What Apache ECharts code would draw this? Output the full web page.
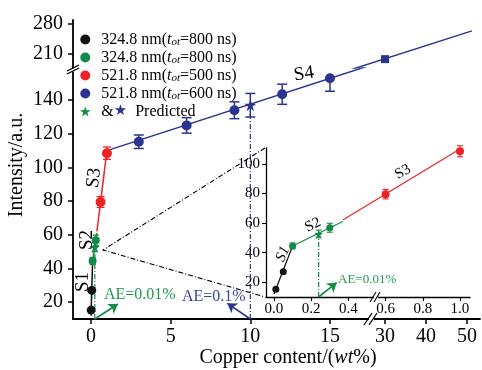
<!DOCTYPE html>
<html><head><meta charset="utf-8">
<script src="https://cdn.jsdelivr.net/npm/echarts@6/dist/echarts.min.js"></script>
<style>html,body{margin:0;padding:0;background:#fff}#c{width:482px;height:370px}</style>
</head><body><div id="c"></div>
<script>
const FONT = '"Liberation Serif", "Times New Roman", serif';
const BLACK = '#111111', GREEN = '#138a45', RED = '#ec2227', BLUE = '#2b3490';
const GTEXT = '#1f9a52', BTEXT = '#3a43a2';
const STAR = 'path://M50,0L61.8,35.3L98.9,35.3L68.9,57.1L80.4,92.7L50,70.6L19.6,92.7L31.1,57.1L1.1,35.3L38.2,35.3Z';

// ---- tick labels ----
const mainYTicks = [20, 40, 60, 80, 100, 120, 140];
const upperYTicks = [210, 280];
const mainXTicks = [0, 5, 10, 15];
const farXTicks = [30, 40, 50];
const insetXTicks = [0, 0.2, 0.4, 0.6, 0.8, 1.0];
const insetYTicks = [20, 40, 60, 80, 100];

// ---- series values ----
const s1Line = [[0.0, 12], [0.1, 44.5]];
const s1Pts = [[0.01, 15.3], [0.05, 27]];
const s2Line = [[0.1, 44.5], [0.37, 61]];
const s2Pts = [[0.1, 44.5], [0.3, 56.8]];
const s2Pred = [[0.24, 52.6]];
const s2Err = [[0.1, 42.5, 46.5, 1], [0.24, 50, 55.2, 1], [0.3, 53.8, 59.8, 1]];
const s3Line = [[0.37, 62], [1.0, 110]];
const s3Pts = [[0.6, 79.5], [1.0, 108.5]];
const s3Err = [[0.6, 76.3, 82.7, 1], [1.0, 104.8, 112.2, 1]];
const s4Line = [[1.0, 110], [51.2, 264]];
const s4Pts = [[3, 115.3], [6, 125], [9, 134], [12, 143.5], [15, 153]];
const s4Err = [[3, 111.3, 119.3, 1], [6, 120.4, 129.6, 1], [9, 129, 139, 1], [12, 137.5, 149.5, 1], [15, 145.3, 153, 0]];
const s4Pred = [[10, 137]];
const s4PredErr = [[10, 130, 144, 1]];
const s4Far = [[30, 198]];
const aeGreen = [[0.24, 10], [0.24, 52.6]];
const aeBlue = [[10, 10], [10, 137]];
const aeGreenArrowMain = [[0.24, 10], [1.69, 18.9]];
const aeBlueArrowMain = [[10, 10], [8.56, 19.3]];
const aeGreenArrowInset = [[0.24, 10], [0.337, 19.7]];

const legendText = {
  n1: '324.8 nm({it|t}{sub|ot}=800 ns)',
  n2: '324.8 nm({it|t}{sub|ot}=800 ns)',
  n3: '521.8 nm({it|t}{sub|ot}=500 ns)',
  n4: '521.8 nm({it|t}{sub|ot}=600 ns)',
  n5: '&{bs|★}  Predicted'
};

const chart = echarts.init(document.getElementById('c'), null, {renderer: 'canvas'});

function errBar(color, cap, lw) {
  return function (params, api) {
    const x = api.value(0), lo = api.value(1), hi = api.value(2), capHi = api.value(3);
    const a = api.coord([x, lo]), b = api.coord([x, hi]);
    const st = {stroke: color, lineWidth: lw};
    const ch = [
      {type: 'line', shape: {x1: a[0], y1: a[1], x2: b[0], y2: b[1]}, style: st},
      {type: 'line', shape: {x1: a[0] - cap, y1: a[1], x2: a[0] + cap, y2: a[1]}, style: st}
    ];
    if (capHi) ch.push({type: 'line', shape: {x1: b[0] - cap, y1: b[1], x2: b[0] + cap, y2: b[1]}, style: st});
    return {type: 'group', children: ch};
  };
}

const axFont = {fontFamily: FONT, color: '#000'};
function valAxis(extra) {
  return Object.assign({
    type: 'value', splitLine: {show: false},
    axisLine: {show: true, onZero: false, lineStyle: {color: '#000', width: 1.8}},
    axisTick: {show: true, length: 5, lineStyle: {color: '#000', width: 1.5}},
    axisLabel: Object.assign({fontSize: 20, margin: 9}, axFont)
  }, extra);
}
function hidden(extra) {
  return Object.assign({type: 'value', show: false, splitLine: {show: false}, axisLine: {show: false, onZero: false}}, extra);
}

const grids = [
  {left: 73, top: 68, width: 300, height: 251},   // 0 main lower-left
  {left: 73, top: 20, width: 407, height: 48},    // 1 upper band
  {left: 373, top: 68, width: 107, height: 251},  // 2 lower-right
  {left: 266, top: 148, width: 204, height: 149}  // 3 inset
].map(g => Object.assign({outerBoundsMode: 'none', containLabel: false}, g));

const xAxes = [
  valAxis({gridIndex: 0, min: -1.13, max: 17.7,
    axisTick: {show: true, length: 5, lineStyle: {color: '#000', width: 1.5}, customValues: mainXTicks},
    axisLabel: Object.assign({fontSize: 20, margin: 8, customValues: mainXTicks}, axFont)}),
  hidden({gridIndex: 1, min: -46.1, max: 53.17}),
  valAxis({gridIndex: 2, min: 27.07, max: 53.17,
    axisTick: {show: true, length: 5, lineStyle: {color: '#000', width: 1.5}, customValues: farXTicks},
    axisLabel: Object.assign({fontSize: 20, margin: 8, customValues: farXTicks}, axFont)}),
  valAxis({gridIndex: 3, min: -0.043, max: 1.054,
    axisLine: {show: true, onZero: false, lineStyle: {color: '#000', width: 1.3}},
    axisTick: {show: true, length: 4, lineStyle: {color: '#000', width: 1.1}, customValues: insetXTicks},
    axisLabel: Object.assign({fontSize: 15, margin: 5, customValues: insetXTicks, formatter: v => v.toFixed(1)}, axFont)})
];
const yAxes = [
  valAxis({gridIndex: 0, min: 10, max: 159.1,
    axisTick: {show: true, length: 5, lineStyle: {color: '#000', width: 1.5}, customValues: mainYTicks},
    axisLabel: Object.assign({fontSize: 20, margin: 10, customValues: mainYTicks}, axFont)}),
  valAxis({gridIndex: 1, min: 177.3, max: 289.3,
    axisTick: {show: true, length: 5, lineStyle: {color: '#000', width: 1.5}, customValues: upperYTicks},
    axisLabel: Object.assign({fontSize: 20, margin: 10, customValues: upperYTicks}, axFont)}),
  hidden({gridIndex: 2, min: 10, max: 159.1}),
  valAxis({gridIndex: 3, min: 10, max: 110.7,
    axisLine: {show: true, onZero: false, lineStyle: {color: '#000', width: 1.3}},
    axisTick: {show: true, length: 4, lineStyle: {color: '#000', width: 1.1}, customValues: insetYTicks},
    axisLabel: Object.assign({fontSize: 15, margin: 6, customValues: insetYTicks}, axFont)})
];

function lineS(name, data, color, ax, extra) {
  return Object.assign({type: 'line', name, data, xAxisIndex: ax, yAxisIndex: ax, symbol: 'none',
    lineStyle: {color, width: 1.5}, itemStyle: {color}, silent: true, animation: false, z: 2}, extra || {});
}
function scat(name, data, color, ax, symbol, size) {
  return {type: 'scatter', name, data, xAxisIndex: ax, yAxisIndex: ax, symbol, symbolSize: size,
    itemStyle: {color, opacity: 1}, silent: true, animation: false, z: 4};
}
function errS(data, color, ax, cap, lw) {
  return {type: 'custom', name: 'err', data, xAxisIndex: ax, yAxisIndex: ax, renderItem: errBar(color, cap, lw),
    encode: {x: 0, y: [1, 2]}, silent: true, animation: false, z: 3};
}
function dashS(data, color, ax, arrow) {
  return lineS('ae', data, color, ax, {
    lineStyle: {color, width: 1.2, type: [5, 2, 1, 2]}, z: 1,
    markLine: {silent: true, animation: false, symbol: ['none', 'arrow'], symbolSize: 9,
      lineStyle: {color, width: 1.6, type: 'solid'}, label: {show: false},
      data: [[{coord: arrow[0]}, {coord: arrow[1]}]]}
  });
}

const series = [
  // main plot
  lineS('l1', s1Line, BLACK, 0), lineS('l2', s2Line, GREEN, 0), lineS('l3', s3Line, RED, 0),
  lineS('l4', s4Line, BLUE, 0), lineS('l4b', s4Line, BLUE, 1),
  dashS(aeGreen, GREEN, 0, aeGreenArrowMain), dashS(aeBlue, BLUE, 0, aeBlueArrowMain),
  errS(s2Err, GREEN, 0, 3, 1.3), errS(s3Err, RED, 0, 4, 1.3), errS(s4Err, BLUE, 0, 5, 1.5), errS(s4PredErr, BLUE, 0, 5, 1.5),
  scat('n1', s1Pts, BLACK, 0, 'circle', 9), scat('n2', s2Pts, GREEN, 0, 'circle', 8),
  scat('n3', s3Pts, RED, 0, 'circle', 10), scat('n4', s4Pts, BLUE, 0, 'circle', 10),
  scat('n5', s2Pred, GREEN, 0, STAR, 10), scat('n6', s4Pred, BLUE, 0, STAR, 12),
  scat('n7', s4Far, BLUE, 1, 'rect', 8),
  // inset
  lineS('l1', s1Line, BLACK, 3, {lineStyle: {color: BLACK, width: 1.2}}),
  lineS('l2', s2Line, GREEN, 3, {lineStyle: {color: GREEN, width: 1.2}}),
  lineS('l3', s3Line, RED, 3, {lineStyle: {color: RED, width: 1.2}}),
  dashS(aeGreen, GREEN, 3, aeGreenArrowInset),
  errS(s2Err, GREEN, 3, 3, 1.1), errS(s3Err, RED, 3, 3, 1.1),
  scat('n1', s1Pts, BLACK, 3, 'circle', 7), scat('n2', s2Pts, GREEN, 3, 'circle', 7),
  scat('n3', s3Pts, RED, 3, 'circle', 8), scat('n5', s2Pred, GREEN, 3, STAR, 9)
];

const txt = (text, x, y, size, color, rot, extra) => ({
  type: 'text', x, y, rotation: rot || 0, z: 20, silent: true,
  style: Object.assign({text, fontFamily: FONT, fontSize: size, fill: color || '#000',
    align: 'center', verticalAlign: 'middle'}, extra || {})
});
const seg = (x1, y1, x2, y2, color, w, dash) => ({type: 'line', z: 20, silent: true,
  shape: {x1, y1, x2, y2}, style: {stroke: color || '#000', lineWidth: w || 1.3, lineDash: dash || null}});

const graphic = [
  // axis names
  txt('Intensity/a.u.', 17, 165, 20, '#000', Math.PI / 2),
  {type: 'text', x: 288, y: 358, z: 20, silent: true, style: {
    text: 'Copper content/({i|wt}%)', fontFamily: FONT, fontSize: 20, fill: '#000', align: 'center', verticalAlign: 'middle',
    rich: {i: {fontFamily: FONT, fontSize: 20, fontStyle: 'italic', fill: '#000'}}}},
  // segment labels main
  txt('S1', 83, 282, 19, '#000', Math.PI / 2),
  txt('S2', 87, 240, 19, '#000', Math.PI / 2),
  txt('S3', 94, 178, 19, '#000', Math.PI * 0.46),
  txt('S4', 304, 74, 19, '#000', 0.15),
  // inset labels
  txt('S1', 283, 254, 15, '#000', 1.15, {fontStyle: 'italic'}),
  txt('S2', 313, 225, 15, '#000', 0.45),
  txt('S3', 403, 172, 15, '#000', 0.52),
  // AE labels
  txt('AE=0.01%', 104, 295, 16, GTEXT, 0, {align: 'left'}),
  txt('AE=0.1%', 182, 297, 16, BTEXT, 0, {align: 'left'}),
  txt('AE=0.01%', 338, 280, 13, GTEXT, 0, {align: 'left'}),
  // zoom lines
  {type: 'polyline', z: 5, silent: true, shape: {points: [[265, 148], [103, 250], [265, 297]]},
    style: {stroke: '#000', lineWidth: 1.1, fill: null, lineDash: [5, 2, 1, 2]}},
  // y-axis break
  {type: 'rect', z: 19, silent: true, shape: {x: 69, y: 68.5, width: 8, height: 3}, style: {fill: '#fff'}},
  seg(67, 71, 79, 65), seg(67, 74, 79, 68),
  // x-axis break
  {type: 'rect', z: 19, silent: true, shape: {x: 369, y: 316, width: 5, height: 6}, style: {fill: '#fff'}},
  seg(364, 325, 372, 313), seg(369, 325, 377, 313),
  // inset x break
  {type: 'rect', z: 19, silent: true, shape: {x: 374, y: 295, width: 4, height: 4}, style: {fill: '#fff'}},
  seg(370, 302, 376, 292, '#000', 1.1), seg(374, 302, 380, 292, '#000', 1.1)
];

chart.setOption({
  animation: false,
  backgroundColor: '#ffffff',
  grid: grids, xAxis: xAxes, yAxis: yAxes, series, graphic,
  legend: {
    orient: 'vertical', left: 75, top: 26, itemGap: 1, itemWidth: 22, itemHeight: 10,
    selectedMode: false,
    data: [{name: 'n1', icon: 'circle'}, {name: 'n2', icon: 'circle'}, {name: 'n3', icon: 'circle'},
           {name: 'n4', icon: 'circle'}, {name: 'n5', icon: STAR}],
    formatter: n => legendText[n],
    textStyle: {fontFamily: FONT, fontSize: 16, color: '#000', lineHeight: 17,
      rich: {
        it: {fontFamily: FONT, fontStyle: 'italic', fontSize: 16, lineHeight: 17},
        sub: {fontFamily: FONT, fontStyle: 'italic', fontSize: 11, lineHeight: 17, verticalAlign: 'bottom', padding: [6, 0, 0, 0]},
        bs: {color: BLUE, fontSize: 15, fontFamily: 'DejaVu Sans', lineHeight: 17}
      }}
  }
});
</script></body></html>
